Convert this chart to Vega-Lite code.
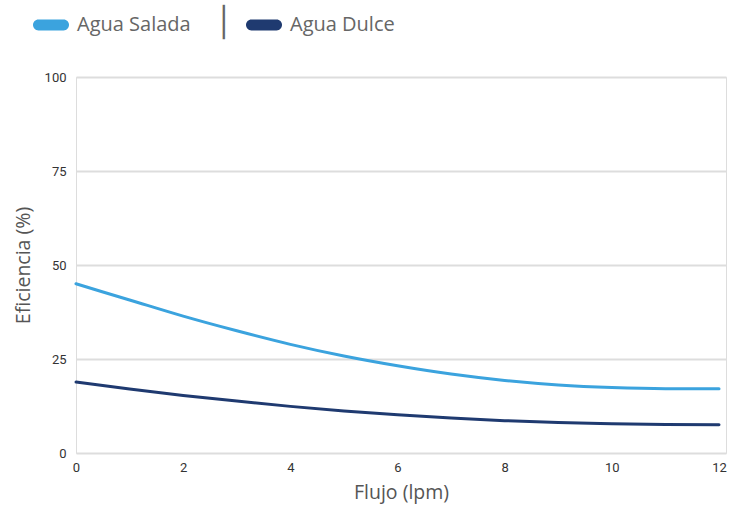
{
  "$schema": "https://vega.github.io/schema/vega-lite/v6.json",
  "autosize": {"type": "none"},
  "width": 650,
  "height": 376,
  "padding": {"left": 76, "top": 77, "right": 13, "bottom": 60},
  "background": "white",
  "title": {
    "text": "│",
    "anchor": "start",
    "frame": "group",
    "font": "DejaVu Sans",
    "fontSize": 29,
    "fontWeight": "normal",
    "color": "#666666",
    "dx": 139,
    "offset": -60,
    "baseline": "bottom"
  },
  "data": {
    "values": [
      {"flujo": 0, "eficiencia": 45, "tipo": "Agua Salada"},
      {"flujo": 1, "eficiencia": 40.7, "tipo": "Agua Salada"},
      {"flujo": 2, "eficiencia": 36.4, "tipo": "Agua Salada"},
      {"flujo": 3, "eficiencia": 32.5, "tipo": "Agua Salada"},
      {"flujo": 4, "eficiencia": 28.9, "tipo": "Agua Salada"},
      {"flujo": 5, "eficiencia": 25.8, "tipo": "Agua Salada"},
      {"flujo": 6, "eficiencia": 23.2, "tipo": "Agua Salada"},
      {"flujo": 7, "eficiencia": 21.0, "tipo": "Agua Salada"},
      {"flujo": 8, "eficiencia": 19.3, "tipo": "Agua Salada"},
      {"flujo": 9, "eficiencia": 18.1, "tipo": "Agua Salada"},
      {"flujo": 10, "eficiencia": 17.4, "tipo": "Agua Salada"},
      {"flujo": 11, "eficiencia": 17.1, "tipo": "Agua Salada"},
      {"flujo": 12, "eficiencia": 17.1, "tipo": "Agua Salada"},
      {"flujo": 0, "eficiencia": 18.9, "tipo": "Agua Dulce"},
      {"flujo": 1, "eficiencia": 17.0, "tipo": "Agua Dulce"},
      {"flujo": 2, "eficiencia": 15.3, "tipo": "Agua Dulce"},
      {"flujo": 3, "eficiencia": 13.8, "tipo": "Agua Dulce"},
      {"flujo": 4, "eficiencia": 12.4, "tipo": "Agua Dulce"},
      {"flujo": 5, "eficiencia": 11.2, "tipo": "Agua Dulce"},
      {"flujo": 6, "eficiencia": 10.15, "tipo": "Agua Dulce"},
      {"flujo": 7, "eficiencia": 9.3, "tipo": "Agua Dulce"},
      {"flujo": 8, "eficiencia": 8.6, "tipo": "Agua Dulce"},
      {"flujo": 9, "eficiencia": 8.1, "tipo": "Agua Dulce"},
      {"flujo": 10, "eficiencia": 7.8, "tipo": "Agua Dulce"},
      {"flujo": 11, "eficiencia": 7.6, "tipo": "Agua Dulce"},
      {"flujo": 12, "eficiencia": 7.5, "tipo": "Agua Dulce"}
    ]
  },
  "mark": {"type": "line", "interpolate": "monotone", "strokeWidth": 3, "strokeCap": "round"},
  "encoding": {
    "x": {
      "field": "flujo",
      "type": "quantitative",
      "title": "Flujo (lpm)",
      "scale": {"domain": [0, 12.13], "nice": false},
      "axis": {
        "values": [0, 2, 4, 6, 8, 10, 12],
        "grid": false,
        "domain": false,
        "ticks": false,
        "labelFont": "Roboto",
        "labelFontSize": 13,
        "labelColor": "#333333",
        "labelPadding": 8,
        "labelFlush": false,
        "titleFont": "Open Sans",
        "titleFontSize": 19.5,
        "titleFontWeight": "normal",
        "titleColor": "#555555",
        "titlePadding": 9
      }
    },
    "y": {
      "field": "eficiencia",
      "type": "quantitative",
      "title": "Eficiencia (%)",
      "scale": {"domain": [0, 100], "nice": false},
      "axis": {
        "values": [0, 25, 50, 75, 100],
        "grid": true,
        "gridColor": "#dddddd",
        "gridWidth": 2,
        "domain": false,
        "ticks": false,
        "labelFont": "Roboto",
        "labelFontSize": 13,
        "labelColor": "#333333",
        "labelPadding": 10,
        "titleFont": "Open Sans",
        "titleFontSize": 19.5,
        "titleFontWeight": "normal",
        "titleColor": "#555555",
        "titlePadding": 11
      }
    },
    "color": {
      "field": "tipo",
      "type": "nominal",
      "scale": {"domain": ["Agua Salada", "Agua Dulce"], "range": ["#3BA3DE", "#1F3A70"]},
      "legend": {
        "title": null,
        "orient": "none",
        "direction": "horizontal",
        "legendX": -43,
        "legendY": -70,
        "symbolType": "M -0.7 -0.3 L 0.7 -0.3 A 0.3 0.3 0 0 1 0.7 0.3 L -0.7 0.3 A 0.3 0.3 0 0 1 -0.7 -0.3 Z",
        "symbolSize": 1296,
        "symbolStrokeWidth": 0,
        "labelFont": "Open Sans",
        "labelFontSize": 20,
        "labelColor": "#666666",
        "labelOffset": 8,
        "columnPadding": 55,
        "labelLimit": 300,
        "encode": {
          "symbols": {"update": {"fill": {"scale": "color", "field": "value"}, "strokeWidth": {"value": 0}, "opacity": {"value": 1}}}
        }
      }
    }
  }
}
